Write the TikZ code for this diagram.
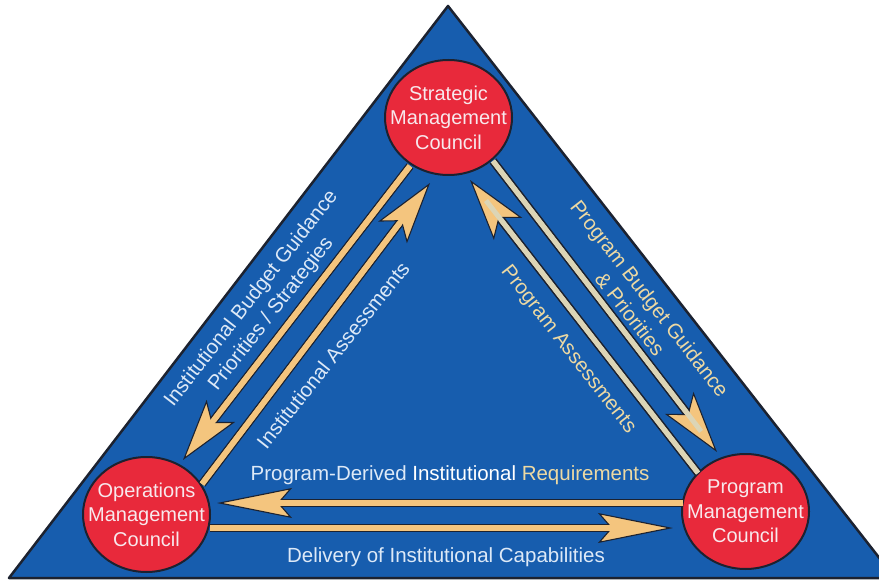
\documentclass[tikz,border=0pt]{standalone}
\usepackage{fontspec}
\setmainfont{Liberation Sans}
\usetikzlibrary{arrows.meta,shapes.geometric}
\definecolor{trifill}{HTML}{175DAE}
\definecolor{outl}{HTML}{1C2230}
\definecolor{councilred}{HTML}{E8293B}
\definecolor{circletext}{HTML}{F8E8EC}
\definecolor{arrowtan}{HTML}{F4C57E}
\definecolor{paleshaft}{HTML}{DCD5B6}
\definecolor{textblue}{HTML}{DDE9F7}
\definecolor{texttan}{HTML}{EDD9A3}
\tikzset{
  diaghead/.tip={Stealth[length=62pt,width=36pt,inset=14pt,fill=arrowtan,color=outl,line width=1.1pt]},
  bothead/.tip={Stealth[length=75pt,width=30pt,inset=13pt,fill=arrowtan,color=outl,line width=1.1pt]},
  shaftout/.style={draw=outl,line width=8.4pt,shorten >=32pt},
  tanmain/.style={draw=arrowtan,line width=5.6pt},
  tantop/.style={draw=arrowtan,line width=5.6pt,shorten >=26pt},
  palemain/.style={draw=paleshaft,line width=5pt},
  paletop/.style={draw=paleshaft,line width=5pt,shorten >=26pt},
  council/.style={ellipse,draw=outl,line width=2pt,fill=councilred,minimum width=127pt,minimum height=115pt,inner sep=0pt},
  counciltext/.style={text=circletext,align=center,inner sep=0pt,font=\fontsize{20}{24.5}\selectfont},
  lbl/.style={font=\fontsize{20.5}{25}\selectfont,align=center,inner sep=0pt}
}
\newcommand\fatarr[5]{% #1 main style, #2 top style, #3 tip, #4 from, #5 to
  \draw[shaftout] (#4) -- (#5);
  \draw[#1,-{#3}] (#4) -- (#5);
  \draw[#2] (#4) -- (#5);
}
\begin{document}
\begin{tikzpicture}[x=1pt,y=-1pt]
\useasboundingbox (0,0) rectangle (879,580);
\fill[white] (0,0) rectangle (879,580);
\draw[draw=outl,line width=2.5pt,fill=trifill,line join=round] (448,6) -- (895,578) -- (9,578) -- cycle;

\node[council,label={[counciltext]center:Strategic\\Management\\Council}] (S) at (448.5,117.5) {};
\node[council,label={[counciltext]center:Operations\\Management\\Council}] (O) at (146.5,514.5) {};
\node[council,label={[counciltext]center:Program\\Management\\Council}] (P) at (745.5,511.5) {};

\coordinate (ibgA) at (410,166);
\coordinate (ibgB) at (183,460);
\coordinate (iaA) at (202,484);
\coordinate (iaB) at (430,183);
\coordinate (pbgA) at (493,161);
\coordinate (pbgB) at (717,452);
\coordinate (paA) at (698,473);
\coordinate (paB) at (470,180);
\coordinate (pdrA) at (683,503);
\coordinate (pdrB) at (217,503);
\coordinate (dicA) at (210,528);
\coordinate (dicB) at (673,528);

\fatarr{tanmain}{tantop}{diaghead}{ibgA}{ibgB}
\fatarr{tanmain}{tantop}{diaghead}{iaA}{iaB}
\fatarr{palemain}{paletop}{diaghead}{pbgA}{pbgB}
\fatarr{palemain}{paletop}{diaghead}{paA}{paB}
\fatarr{tanmain}{tantop}{bothead}{pdrA}{pdrB}
\fatarr{tanmain}{tantop}{bothead}{dicA}{dicB}

\node[lbl,text=textblue,rotate=52] (t1) at (261.5,306.5) {Institutional Budget Guidance\\Priorities / Strategies};
\node[lbl,text=textblue,rotate=51.5] (t2) at (333,355) {Institutional Assessments};
\node[lbl,text=texttan,rotate=-52] (t3) at (640,306) {Program Budget Guidance\\\& Priorities};
\node[lbl,text=texttan,rotate=-52] (t4) at (568,350) {Program Assessments};
\node[lbl] (t5) at (450,475) {\textcolor{textblue}{Program-Derived} \textcolor{white}{Institutional} \textcolor{texttan}{Requirements}};
\node[lbl,text=textblue] (t6) at (446,557) {Delivery of Institutional Capabilities};
\end{tikzpicture}
\end{document}
